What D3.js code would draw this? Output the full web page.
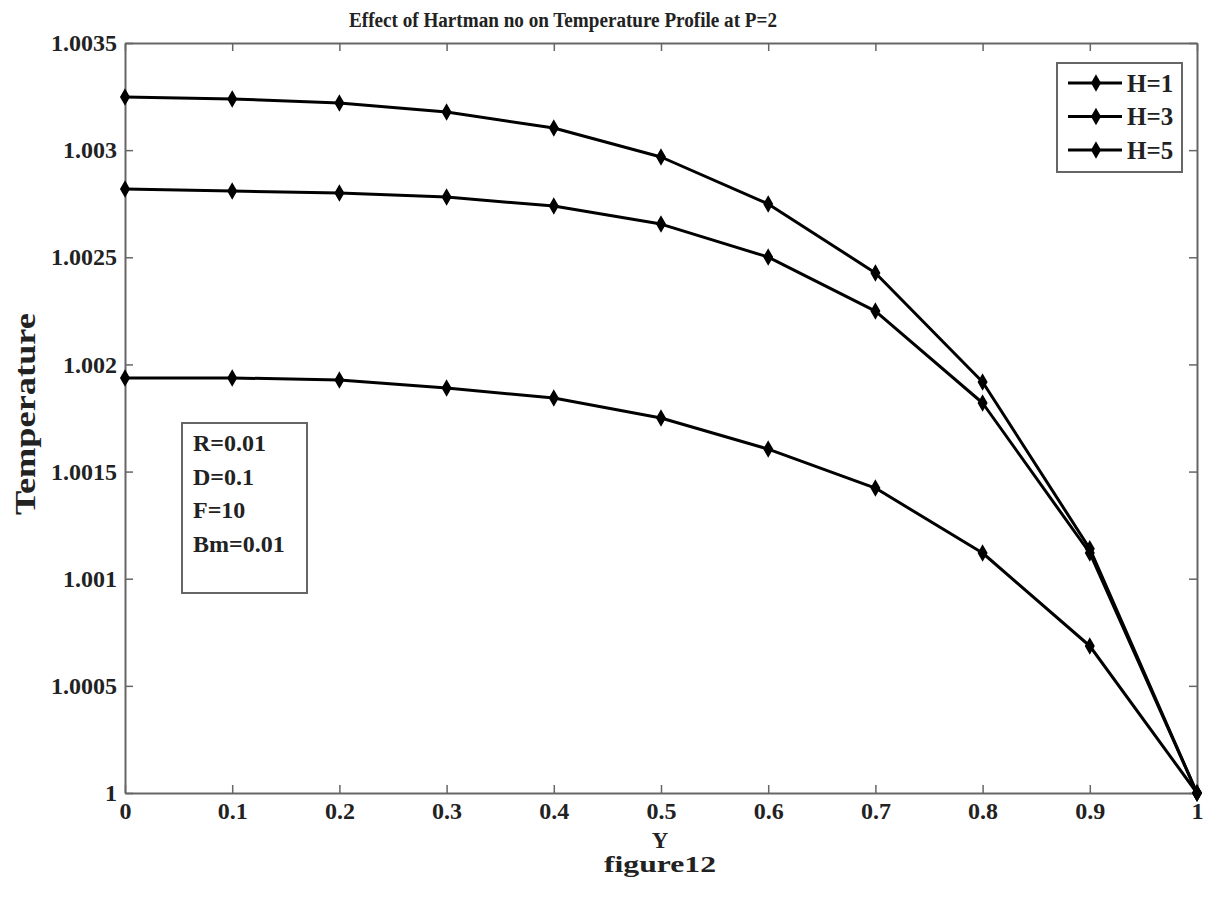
<!DOCTYPE html>
<html>
<head>
<meta charset="utf-8" />
<title>figure12</title>
<script src="https://cdn.jsdelivr.net/npm/d3@7"></script>
<style>
    body { margin: 0px; background: #fff; }
    text { font-family: "Liberation Serif", "Times New Roman", serif; font-weight: bold; fill: #222; }
</style>
</head>
<body>
<svg id="chart" width="1208" height="906"></svg>
<script>

    // data
    var yPos = [0, 0.1, 0.2, 0.3, 0.4, 0.5, 0.6, 0.7, 0.8, 0.9, 1];
    var tempH1 = [1.003248, 1.003239, 1.00322, 1.003178, 1.003103, 1.002968, 1.002749, 1.002427, 1.001918, 1.00114, 1];
    var tempH3 = [1.002819, 1.002809, 1.0028, 1.002781, 1.002739, 1.002655, 1.002501, 1.002249, 1.00182, 1.00112, 1];
    var tempH5 = [1.001937, 1.001937, 1.001927, 1.00189, 1.001843, 1.00175, 1.001605, 1.001423, 1.00112, 1.000686, 1];
    var seriesNames = ['H=1', 'H=3', 'H=5'];
    var xTicks = [0, 0.1, 0.2, 0.3, 0.4, 0.5, 0.6, 0.7, 0.8, 0.9, 1];
    var xTickLabels = ['0', '0.1', '0.2', '0.3', '0.4', '0.5', '0.6', '0.7', '0.8', '0.9', '1'];
    var yTicks = [1, 1.0005, 1.001, 1.0015, 1.002, 1.0025, 1.003, 1.0035];
    var yTickLabels = ['1', '1.0005', '1.001', '1.0015', '1.002', '1.0025', '1.003', '1.0035'];
    var paramLines = ['R=0.01', 'D=0.1', 'F=10', 'Bm=0.01'];

    // plot box (window.top is taken, so own names)
    var plotL = 125, plotR = 1197, plotT = 43, plotB = 793;

    var svg = d3.select('#chart');

    var x = d3.scaleLinear().domain([0, 1]).range([plotL, plotR]);
    var y = d3.scaleLinear().domain([1, 1.0035]).range([plotB, plotT]);

    var axisColor = '#666';

    // box axes, ticks pointing inward
    function styleAxis(g) {
        g.select('.domain').attr('stroke', axisColor).attr('stroke-width', 2);
        g.selectAll('.tick line').attr('stroke', axisColor).attr('stroke-width', 1.5);
        g.selectAll('.tick text').style('font-size', '24px').attr('fill', '#222');
    }

    svg.append('g')
        .attr('transform', 'translate(0,' + plotB + ')')
        .call(d3.axisBottom(x).tickValues(xTicks)
            .tickFormat(function(d, i) { return xTickLabels[i]; })
            .tickSizeInner(-8).tickSizeOuter(0).tickPadding(9))
        .call(styleAxis);

    svg.append('g')
        .attr('transform', 'translate(0,' + plotT + ')')
        .call(d3.axisTop(x).tickValues(xTicks).tickFormat('')
            .tickSizeInner(-8).tickSizeOuter(0))
        .call(styleAxis);

    svg.append('g')
        .attr('transform', 'translate(' + plotL + ',0)')
        .call(d3.axisLeft(y).tickValues(yTicks)
            .tickFormat(function(d, i) { return yTickLabels[i]; })
            .tickSizeInner(-8).tickSizeOuter(0).tickPadding(8))
        .call(styleAxis);

    svg.append('g')
        .attr('transform', 'translate(' + plotR + ',0)')
        .call(d3.axisRight(y).tickValues(yTicks).tickFormat('')
            .tickSizeInner(-8).tickSizeOuter(0))
        .call(styleAxis);

    // curves
    var allSeries = [tempH1, tempH3, tempH5];
    var line = d3.line()
        .x(function(d, i) { return x(yPos[i]); })
        .y(function(d) { return y(d); });

    var marker = d3.symbol().type(d3.symbolDiamond).size(60);

    allSeries.forEach(function(vals) {
        svg.append('path')
            .datum(vals)
            .attr('d', line)
            .attr('fill', 'none')
            .attr('stroke', '#000')
            .attr('stroke-width', 3)
            .attr('stroke-linejoin', 'round');

        svg.append('g').selectAll('path')
            .data(vals)
            .enter().append('path')
            .attr('d', marker)
            .attr('transform', function(d, i) { return 'translate(' + x(yPos[i]) + ',' + y(d) + ')'; })
            .attr('fill', '#000')
            .attr('stroke', '#000')
            .attr('stroke-width', 1.5);
    });

    // legend
    var lg = svg.append('g');
    lg.append('rect')
        .attr('x', 1057).attr('y', 63)
        .attr('width', 125).attr('height', 109)
        .attr('fill', '#fff')
        .attr('stroke', axisColor).attr('stroke-width', 2);

    seriesNames.forEach(function(name, i) {
        var ly = 83 + i * 33.5;
        lg.append('line')
            .attr('x1', 1068).attr('x2', 1122)
            .attr('y1', ly).attr('y2', ly)
            .attr('stroke', '#000').attr('stroke-width', 3);
        lg.append('path')
            .attr('d', marker)
            .attr('transform', 'translate(1096,' + ly + ')')
            .attr('fill', '#000').attr('stroke', '#000').attr('stroke-width', 1.5);
        lg.append('text')
            .attr('x', 1127).attr('y', ly)
            .attr('dy', '0.35em')
            .style('font-size', '25px')
            .text(name);
    });

    // parameter box
    var pb = svg.append('g');
    pb.append('rect')
        .attr('x', 182).attr('y', 423)
        .attr('width', 125).attr('height', 170)
        .attr('fill', '#fff')
        .attr('stroke', axisColor).attr('stroke-width', 2);

    pb.selectAll('text')
        .data(paramLines)
        .enter().append('text')
        .attr('x', 193)
        .attr('y', function(d, i) { return 443 + i * 33.5; })
        .attr('dy', '0.35em')
        .style('font-size', '24px')
        .text(function(d) { return d; });

    // titles
    svg.append('text')
        .attr('x', 563).attr('y', 20)
        .attr('dy', '0.35em')
        .attr('text-anchor', 'middle')
        .attr('textLength', 428)
        .attr('lengthAdjust', 'spacingAndGlyphs')
        .style('font-size', '20px')
        .text('Effect of Hartman no on Temperature Profile at P=2');

    svg.append('text')
        .attr('x', 660).attr('y', 840)
        .attr('dy', '0.35em')
        .attr('text-anchor', 'middle')
        .style('font-size', '23px')
        .text('Y');

    svg.append('text')
        .attr('x', 660).attr('y', 864)
        .attr('dy', '0.35em')
        .attr('text-anchor', 'middle')
        .attr('textLength', 112)
        .attr('lengthAdjust', 'spacingAndGlyphs')
        .style('font-size', '23px')
        .text('figure12');

    svg.append('text')
        .attr('transform', 'translate(25,414) rotate(-90)')
        .attr('dy', '0.35em')
        .attr('text-anchor', 'middle')
        .attr('textLength', 202)
        .attr('lengthAdjust', 'spacingAndGlyphs')
        .style('font-size', '29px')
        .text('Temperature');

</script>
</body>
</html>
